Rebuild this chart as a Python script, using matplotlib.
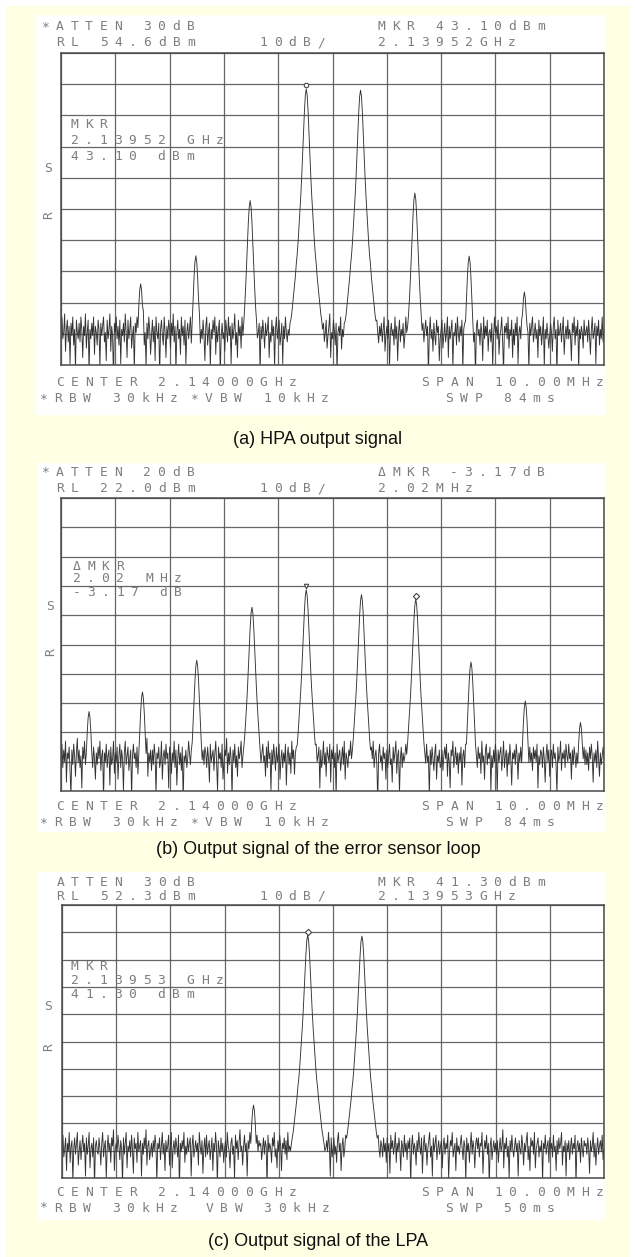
import numpy as np
import matplotlib
matplotlib.use("Agg")
import matplotlib.pyplot as plt
from matplotlib.patches import Rectangle
import matplotlib.transforms as mtransforms

# ------------------------------------------------------------------ data
span_start_mhz = 2135.0
span_stop_mhz = 2145.0
n_div = 10

# skirt of the RBW filter: dB below the peak, per sweep point away from it
skirt_db = [0, 2, 7, 14, 21, 28, 34, 39, 44, 49, 53, 56, 60, 63, 66, 69, 72, 74, 77, 79, 81, 83]

# (a) HPA output signal
a_ref_level = 54.6
a_peak_freqs = [2136.47, 2137.48, 2138.49, 2139.52, 2140.51, 2141.52, 2142.52, 2143.54]
a_peak_levels = [-19.4, -10.4, 7.3, 43.1, 42.7, 9.7, -10.5, -22.0]
a_noise = [
    -33, -30, -37, -35, -29, -41, -34, -31, -38, -33, -45, -32, -36, -30, -39, -34, -47, -31, -35, -37,
    -32, -38, -30, -34, -43, -33, -36, -29, -40, -35, -31, -48, -34, -37, -32, -36, -30, -42, -33, -35,
    -39, -31, -34, -46, -32, -36, -33, -30, -38, -35, -44, -31, -37, -34, -29, -41, -33, -36, -50, -32,
    -35, -30, -37, -33, -39, -31, -45, -34, -36, -32, -38, -29, -35, -43, -31, -37, -34, -30, -40, -36,
    -33, -47, -32, -35, -30, -38, -34, -41, -31, -36, -33, -28, -39, -35, -46, -32, -37, -30, -34, -42,
    -36, -31, -38, -33, -44, -30, -35, -37, -32, -49, -34, -31, -36, -39, -30, -35, -43, -33, -37, -31,
    -34, -40, -32, -36, -29, -38, -33, -47, -35, -31, -37, -34, -42, -30, -36, -33, -39, -31, -45, -35,
    -32, -37, -34, -30, -41, -35, -33, -38, -31, -36, -48, -32, -35, -29, -40, -34, -37, -31, -36, -44,
    -33, -30, -39, -35, -32, -46, -34, -37, -31, -35, -30, -42, -33, -38, -34, -31, -49, -36, -32, -37,
    -35, -41, -31, -34, -38, -30, -36, -33, -45, -32, -37, -34, -29, -39, -35, -43, -31, -36, -33, -40,
    -30, -36, -33, -47, -34, -31, -38, -35, -32, -41, -36, -30, -37, -33, -44, -34, -31, -39, -35, -32,
    -48, -33, -37, -31, -35, -40, -32, -36, -34, -30, -43, -35, -38, -31, -36, -33, -46, -34, -30, -37,
    -34, -31, -39, -36, -32, -45, -33, -37, -30, -35, -38, -34, -50, -32, -36, -31, -40, -35, -33, -37,
    -41, -32, -35, -30, -38, -34, -36, -44, -31, -37, -33, -29, -39, -35, -32, -47, -34, -36, -30, -38,
    -33, -36, -31, -42, -35, -33, -37, -30, -46, -34, -32, -38, -35, -31, -40, -36, -33, -29, -43, -35,
    -37, -31, -34, -39, -32, -48, -35, -33, -36, -30, -41, -34, -37, -32, -35, -44, -31, -38, -33, -36,
    -30, -45, -34, -37, -31, -35, -33, -40, -36, -32, -38, -34, -47, -30, -36, -33, -39, -35, -31, -42,
    -35, -32, -38, -33, -36, -30, -43, -34, -37, -31, -35, -49, -33, -36, -32, -38, -34, -30, -41, -36,
    -33, -37, -31, -46, -35, -32, -36, -34, -39, -30, -37, -33, -44, -35, -31, -38, -34, -36, -32, -40,
    -36, -30, -35, -33, -42, -31, -37, -34, -29, -38, -35, -47, -32, -36, -33, -30, -40, -34, -37, -45,
    -32, -38, -34, -31, -36, -33, -49, -35, -30, -37, -34, -41, -32, -36, -39, -31, -35, -33, -44, -37,
    -34, -31, -40, -36, -32, -38, -35, -30, -43, -33, -37, -34, -31, -46, -35, -36, -32, -39, -30, -35,
    -38, -33, -36, -31, -47, -34, -32, -37, -35, -40, -30, -36, -33, -42, -34, -31, -38, -35, -50, -33,
    -31, -36, -34, -39, -32, -35, -44, -30, -37, -33, -36, -31, -41, -35, -34, -38, -32, -46, -36, -30,
    -35, -33, -37, -31, -42, -36, -34, -30, -38, -48, -33, -35, -32, -37, -30, -40, -34, -36, -31, -43,
    -34, -39, -32, -36, -30, -45, -35, -33, -37, -31, -38, -34, -36, -29, -41, -33, -35, -47, -32, -36,
    -33, -30, -38, -35, -32, -37, -34, -43, -31, -36, -33, -39, -35, -30, -46, -34, -37, -32, -36, -40,
    -36, -32, -35, -41, -33, -30, -37, -34, -49, -31, -36, -35, -32, -38, -34, -30, -42, -36, -33, -37,
    -31, -37, -34, -36, -44, -32, -35, -30, -39, -33, -36, -31, -47, -34, -37, -33, -35, -40, -31, -36,
    -35, -33, -38, -31, -36, -42, -34, -30, -37, -35, -32, -45, -33, -36, -31, -39, -34, -37, -30, -38,
    -34,
]

# (b) output signal of the error sensor loop
b_ref_level = 22.0
b_peak_freqs = [2135.51, 2136.50, 2137.50, 2138.52, 2139.52, 2140.53, 2141.54, 2142.55, 2143.55, 2144.57]
b_peak_levels = [-50.9, -44.2, -33.4, -15.3, -9.3, -11.0, -12.5, -34.0, -47.3, -54.6]
b_noise = [
    -66, -62, -70, -64, -68, -61, -75, -65, -67, -63, -71, -80, -64, -69, -62, -66, -73, -65, -60, -68,
    -64, -70, -66, -77, -63, -67, -61, -69, -65, -72, -64, -68, -62, -79, -66, -70, -63, -67, -74, -65,
    -69, -63, -67, -61, -71, -66, -64, -81, -65, -68, -62, -70, -66, -64, -76, -63, -69, -67, -61, -72,
    -65, -68, -63, -74, -66, -62, -70, -64, -67, -78, -65, -61, -69, -66, -63, -71, -67, -64, -80, -66,
    -62, -67, -65, -70, -63, -75, -66, -68, -61, -69, -64, -72, -67, -63, -66, -60, -73, -65, -68, -64,
    -71, -64, -69, -62, -66, -79, -65, -67, -63, -70, -68, -61, -74, -66, -64, -69, -62, -67, -65, -77,
    -63, -66, -72, -65, -68, -61, -70, -64, -76, -67, -62, -69, -65, -71, -63, -82, -66, -68, -64, -70,
    -67, -61, -65, -69, -64, -73, -66, -62, -68, -65, -79, -63, -70, -67, -61, -66, -72, -64, -69, -63,
    -65, -70, -63, -67, -75, -62, -68, -66, -64, -71, -65, -61, -69, -78, -63, -67, -65, -70, -62, -74,
    -68, -64, -66, -60, -72, -65, -69, -63, -67, -80, -64, -68, -62, -70, -66, -73, -63, -67, -65, -61,
    -70, -66, -63, -77, -65, -68, -62, -71, -64, -67, -69, -63, -75, -66, -61, -68, -64, -70, -67, -79,
    -64, -69, -65, -62, -68, -66, -73, -63, -70, -61, -67, -65, -78, -64, -69, -62, -66, -71, -63, -68,
    -66, -62, -74, -67, -64, -70, -65, -68, -62, -76, -66, -63, -69, -65, -72, -61, -67, -64, -81, -65,
    -63, -68, -66, -71, -61, -67, -64, -79, -65, -69, -63, -66, -70, -62, -68, -74, -65, -67, -63, -69,
    -72, -65, -62, -68, -66, -63, -77, -64, -70, -67, -61, -69, -65, -73, -63, -66, -68, -62, -75, -64,
    -67, -63, -70, -65, -80, -62, -68, -66, -64, -71, -67, -63, -69, -61, -74, -65, -67, -70, -64, -66,
    -61, -69, -64, -67, -72, -65, -63, -78, -66, -68, -62, -70, -65, -67, -63, -76, -64, -69, -66, -62,
    -68, -65, -73, -63, -67, -61, -70, -66, -64, -69, -82, -65, -62, -68, -66, -71, -63, -67, -65, -74,
    -64, -70, -66, -62, -69, -67, -75, -63, -68, -65, -61, -72, -66, -64, -79, -67, -63, -70, -65, -68,
    -66, -62, -68, -71, -64, -78, -65, -67, -63, -69, -66, -73, -62, -68, -64, -66, -61, -70, -67, -75,
    -63, -67, -65, -70, -62, -68, -66, -80, -64, -69, -63, -67, -71, -65, -62, -74, -66, -68, -64, -70,
    -69, -64, -71, -66, -63, -67, -62, -73, -65, -68, -77, -64, -66, -61, -70, -67, -63, -69, -65, -72,
    -65, -68, -63, -76, -66, -64, -70, -62, -67, -65, -69, -63, -81, -66, -68, -62, -71, -64, -67, -66,
    -70, -63, -67, -65, -72, -61, -68, -66, -74, -64, -62, -69, -65, -67, -63, -78, -66, -70, -64, -68,
    -62, -66, -79, -64, -68, -65, -63, -71, -67, -61, -70, -66, -64, -73, -65, -69, -62, -67, -76, -65,
    -67, -64, -69, -62, -66, -74, -65, -68, -63, -70, -67, -80, -64, -66, -61, -69, -65, -72, -63, -68,
    -65, -71, -63, -67, -64, -68, -62, -77, -66, -69, -64, -65, -70, -63, -67, -75, -66, -62, -68, -64,
    -73, -66, -64, -70, -62, -67, -65, -69, -79, -63, -68, -66, -61, -71, -65, -67, -64, -70, -62, -66,
    -68, -62, -67, -65, -74, -64, -69, -63, -66, -70, -65, -78, -62, -68, -66, -64, -72, -67, -63, -69,
    -64, -69, -65, -71, -63, -67, -62, -66, -75, -65, -68, -64, -70, -61, -67, -73, -65, -69, -66, -63,
    -67,
]

# (c) output signal of the LPA
c_ref_level = 52.3
c_peak_freqs = [2138.53, 2139.53, 2140.53]
c_peak_levels = [-21.0, 41.3, 40.9]
c_noise = [
    -36, -32, -40, -37, -33, -45, -35, -38, -31, -42, -36, -34, -49, -37, -33, -39, -35, -31, -43, -38,
    -34, -41, -36, -32, -38, -35, -47, -33, -39, -36, -31, -44, -37, -35, -40, -33, -51, -36, -34, -38,
    -39, -33, -37, -43, -35, -31, -40, -36, -34, -48, -37, -32, -38, -35, -42, -33, -36, -30, -45, -37,
    -35, -38, -32, -36, -41, -34, -37, -50, -33, -39, -35, -31, -44, -36, -38, -34, -40, -32, -37, -46,
    -33, -37, -35, -42, -31, -38, -36, -34, -47, -35, -39, -33, -37, -30, -43, -36, -34, -41, -38, -35,
    -40, -34, -38, -32, -36, -49, -35, -37, -33, -41, -36, -31, -39, -35, -45, -34, -38, -36, -32, -43,
    -36, -31, -44, -37, -34, -39, -33, -36, -40, -32, -52, -35, -38, -34, -37, -31, -42, -36, -39, -33,
    -38, -35, -33, -47, -36, -32, -40, -37, -34, -38, -35, -43, -31, -36, -39, -34, -46, -37, -33, -40,
    -32, -39, -36, -34, -41, -37, -33, -45, -35, -38, -31, -36, -50, -34, -37, -40, -33, -38, -35, -42,
    -37, -34, -40, -31, -36, -38, -44, -35, -33, -39, -36, -48, -32, -37, -34, -41, -35, -30, -38, -36,
    -43, -36, -32, -38, -35, -47, -34, -37, -31, -40, -36, -33, -39, -35, -45, -37, -32, -38, -34, -36,
    -35, -41, -37, -33, -39, -34, -36, -51, -32, -38, -35, -37, -42, -33, -36, -31, -40, -37, -44, -34,
    -38, -32, -36, -45, -35, -37, -33, -39, -34, -41, -31, -38, -36, -48, -35, -33, -40, -37, -34, -39,
    -36, -40, -33, -37, -31, -43, -38, -35, -36, -32, -46, -34, -39, -37, -33, -42, -35, -38, -30, -37,
    -34, -38, -49, -35, -37, -33, -40, -36, -32, -39, -35, -44, -37, -34, -38, -31, -36, -47, -33, -40,
    -37, -33, -39, -36, -42, -34, -31, -38, -35, -45, -36, -33, -40, -37, -32, -39, -50, -35, -38, -34,
    -35, -40, -32, -38, -36, -34, -47, -37, -33, -41, -35, -38, -31, -36, -43, -34, -39, -36, -33, -37,
    -41, -34, -37, -33, -39, -31, -36, -44, -35, -38, -32, -37, -48, -34, -36, -40, -33, -38, -35, -42,
    -33, -38, -35, -46, -32, -37, -34, -39, -36, -31, -42, -35, -38, -33, -37, -45, -34, -36, -40, -32,
    -38, -35, -41, -34, -37, -33, -50, -36, -32, -39, -35, -37, -43, -34, -38, -31, -36, -39, -33, -46,
    -36, -32, -38, -35, -43, -37, -34, -31, -40, -36, -47, -33, -38, -35, -32, -41, -37, -34, -39, -36,
    -34, -44, -36, -33, -39, -35, -37, -32, -48, -38, -34, -36, -31, -40, -37, -35, -45, -33, -38, -36,
    -39, -35, -32, -37, -41, -34, -36, -49, -33, -38, -35, -42, -36, -31, -39, -34, -37, -44, -35, -33,
    -37, -33, -40, -35, -36, -31, -46, -38, -34, -37, -32, -39, -35, -51, -36, -33, -41, -37, -34, -38,
    -35, -39, -34, -42, -37, -33, -38, -36, -30, -44, -35, -37, -33, -40, -36, -48, -34, -38, -32, -37,
    -40, -36, -33, -38, -35, -47, -34, -37, -39, -32, -36, -43, -35, -38, -34, -31, -41, -36, -45, -33,
    -36, -34, -39, -31, -44, -37, -35, -33, -40, -36, -38, -34, -49, -35, -37, -32, -39, -36, -34, -42,
    -33, -37, -35, -40, -32, -38, -36, -45, -34, -39, -33, -37, -35, -31, -43, -36, -38, -34, -47, -35,
    -38, -34, -41, -36, -33, -39, -35, -37, -32, -50, -36, -34, -38, -35, -42, -33, -37, -40, -34, -36,
    -35, -39, -33, -37, -46, -34, -38, -36, -31, -40, -35, -43, -37, -33, -39, -36, -34, -38, -32, -41,
    -37,
]

captions = ["(a) HPA output signal",
            "(b) Output signal of the error sensor loop",
            "(c) Output signal of the LPA"]

# plotter annotations of each screen: (text, x px, y px)
a_texts = [("*ATTEN 30dB", 41, 27), ("MKR 43.10dBm", 377, 27),
           ("RL 54.6dBm", 56, 43), ("10dB/", 259, 43), ("2.13952GHz", 377, 43),
           ("MKR", 70, 125), ("2.13952 GHz", 70, 140), ("43.10 dBm", 70, 157),
           ("S", 44, 168),
           ("CENTER 2.14000GHz", 56, 382), ("SPAN 10.00MHz", 421, 382),
           ("*RBW 30kHz", 39, 399), ("*VBW 10kHz", 190, 399), ("SWP 84ms", 445, 399)]
b_texts = [("*ATTEN 20dB", 41, 473), ("\u0394MKR -3.17dB", 377, 473),
           ("RL 22.0dBm", 56, 489), ("10dB/", 259, 489), ("2.02MHz", 377, 489),
           ("\u0394MKR", 72, 566), ("2.02 MHz", 72, 579), ("-3.17 dB", 72, 593),
           ("S", 46, 606),
           ("CENTER 2.14000GHz", 56, 807), ("SPAN 10.00MHz", 421, 807),
           ("*RBW 30kHz", 39, 823), ("*VBW 10kHz", 190, 823), ("SWP 84ms", 445, 823)]
c_texts = [("ATTEN 30dB", 56, 883), ("MKR 41.30dBm", 377, 883),
           ("RL 52.3dBm", 56, 896), ("10dB/", 259, 896), ("2.13953GHz", 377, 896),
           ("MKR", 70, 966), ("2.13953 GHz", 70, 980), ("41.30 dBm", 70, 995),
           ("S", 44, 1006),
           ("CENTER 2.14000GHz", 56, 1193), ("SPAN 10.00MHz", 421, 1193),
           ("*RBW 30kHz", 39, 1208), ("VBW 30kHz", 205, 1208), ("SWP 50ms", 445, 1208)]

# ------------------------------------------------------------------ layout (pixels)
W, H = 635, 1257
DPI = 100
BG_YELLOW = "#FFFFE3"
TEXT_GRAY = "#7e7e7e"
GRID_GRAY = "#555555"
TRACE = "#333333"
PITCH = 14.5

fig = plt.figure(figsize=(W / DPI, H / DPI), dpi=DPI, facecolor="white")


def fx(x):
    return x / W


def fy(y):
    return 1 - y / H


def frect(x0, y0, x1, y1, **kw):
    fig.patches.append(Rectangle((fx(x0), fy(y1)), fx(x1) - fx(x0), fy(y0) - fy(y1),
                                 transform=fig.transFigure, **kw))


frect(6, 6, 629, 1257, facecolor=BG_YELLOW, edgecolor="none", zorder=0)

boxes = [(36, 15, 606, 415), (38, 463, 606, 832), (38, 872, 606, 1220)]
grids = [(61, 53, 604, 365), (61, 498, 604, 791), (62, 905, 604, 1178)]
rvert = [(44, 215), (46, 652), (44, 1047)]
cap_y = [439, 850, 1241]


def plotter_text(s, x, y, rot=0):
    for i, ch in enumerate(s):
        if ch == " ":
            continue
        fig.text(fx(x + i * PITCH + 4.5), fy(y), ch, ha="center", va="center",
                 family="DejaVu Sans Mono", fontsize=9.4, color=TEXT_GRAY, rotation=rot)


def build_trace(noise, freqs, levels):
    tr = np.asarray(noise, dtype=float).copy()
    f = np.linspace(span_start_mhz, span_stop_mhz, len(tr))
    for pf, pl in zip(freqs, levels):
        k = int(np.argmin(np.abs(f - pf)))
        for i, d in enumerate(skirt_db):
            for j in (k - i, k + i):
                if 0 <= j < len(tr):
                    tr[j] = max(tr[j], pl - d)
    return f, tr


panels = [
    (a_noise, a_peak_freqs, a_peak_levels, a_ref_level, a_texts, [(3, "o")]),
    (b_noise, b_peak_freqs, b_peak_levels, b_ref_level, b_texts, [(4, "v"), (6, "D")]),
    (c_noise, c_peak_freqs, c_peak_levels, c_ref_level, c_texts, [(1, "D")]),
]

for p, (noise, pfs, pls, rl, texts, marks) in enumerate(panels):
    bx0, by0, bx1, by1 = boxes[p]
    frect(bx0, by0, bx1, by1, facecolor="white", edgecolor="none", zorder=1)

    gx0, gy0, gx1, gy1 = grids[p]
    ax = fig.add_axes([fx(gx0), fy(gy1), fx(gx1) - fx(gx0), fy(gy0) - fy(gy1)])
    ax.set_zorder(2)
    ax.patch.set_alpha(0)
    ax.set_xlim(span_start_mhz, span_stop_mhz)
    ax.set_ylim(rl - 10 * n_div, rl)
    ax.set_xticks(np.linspace(span_start_mhz, span_stop_mhz, n_div + 1))
    ax.set_yticks(np.linspace(rl - 10 * n_div, rl, n_div + 1))
    ax.tick_params(length=0, labelbottom=False, labelleft=False)
    ax.grid(True, color=GRID_GRAY, lw=0.9, alpha=0.9)
    for sp in ax.spines.values():
        sp.set_color("#4a4a4a")
        sp.set_linewidth(1.1)

    f, tr = build_trace(noise, pfs, pls)
    ax.plot(f, tr, color=TRACE, lw=0.65)

    for idx, m in marks:
        off = mtransforms.offset_copy(ax.transData, fig=fig, x=0, y=2.5, units="points")
        ax.plot([pfs[idx]], [pls[idx]], marker=m, ms=3.2, mfc="white",
                mec="#444444", mew=0.8, transform=off, clip_on=False)

    for s, x, y in texts:
        plotter_text(s, x, y)
    plotter_text("R", rvert[p][0], rvert[p][1], rot=90)

    fig.text(fx(318), fy(cap_y[p]), captions[p], ha="center", va="center",
             family="Liberation Sans", fontsize=13, color="#111111")

fig.savefig("out.png", dpi=DPI, facecolor=fig.get_facecolor())
